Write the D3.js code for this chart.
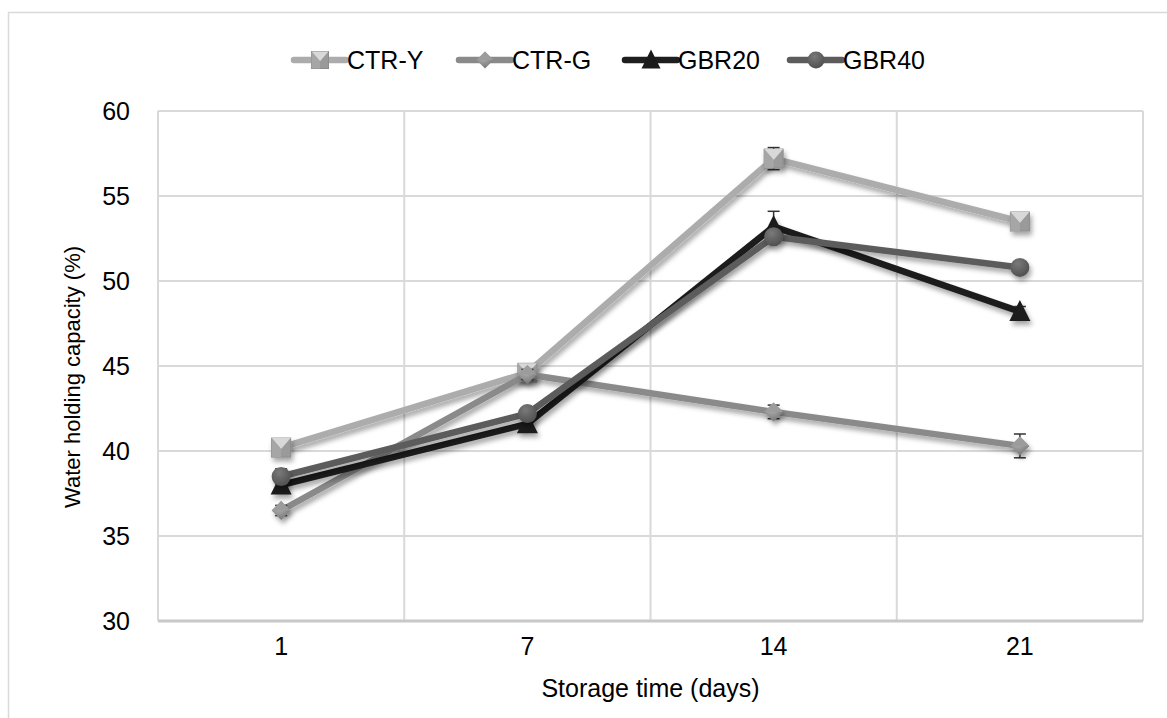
<!DOCTYPE html>
<html>
<head>
<meta charset="utf-8">
<script src="https://cdn.jsdelivr.net/npm/d3@7"></script>
<style>
  body { margin: 0; background: #fff; }
  text { font-family: "Liberation Sans", Arial, sans-serif; fill: #000; }
</style>
</head>
<body>
<div id="chart"></div>
<script>
// Data
const days = ["1", "7", "14", "21"];
const seriesNames = ["CTR-Y", "CTR-G", "GBR20", "GBR40"];
const ctrY = [40.2, 44.6, 57.2, 53.5];
const ctrG = [36.5, 44.5, 42.3, 40.3];
const gbr20 = [38.0, 41.6, 53.2, 48.2];
const gbr40 = [38.5, 42.2, 52.6, 50.8];
const ctrYErr = [0.3, 0.3, 0.65, 0.3];
const ctrGErr = [0.3, 0.3, 0.4, 0.7];
const gbr20Err = [0.3, 0.3, 0.9, 0.3];
const gbr40Err = [0.45, 0.3, 0.3, 0.3];
const yTicks = [30, 35, 40, 45, 50, 55, 60];

const width = 1167;
const height = 718;
const margin = { top: 111, right: 24, bottom: 97, left: 158 };
const fontSize = "25px";

const series = [
  { name: seriesNames[0], values: ctrY, err: ctrYErr, color: "#acacac", shape: "square" },
  { name: seriesNames[1], values: ctrG, err: ctrGErr, color: "#8a8a8a", shape: "diamond" },
  { name: seriesNames[2], values: gbr20, err: gbr20Err, color: "#1e1e1e", shape: "triangle" },
  { name: seriesNames[3], values: gbr40, err: gbr40Err, color: "#5c5c5c", shape: "circle" }
];

const svg = d3.select("#chart").append("svg")
    .attr("width", width)
    .attr("height", height);

// outer chart frame (cut at the right/bottom like the original)
svg.append("rect")
    .attr("x", 8.5).attr("y", 12.5)
    .attr("width", width).attr("height", height)
    .attr("fill", "none").attr("stroke", "#d9d9d9").attr("stroke-width", 1.5);

const defs = svg.append("defs");
const shadow = defs.append("filter").attr("id", "shadow")
    .attr("x", "-20%").attr("y", "-20%").attr("width", "140%").attr("height", "160%");
shadow.append("feDropShadow")
    .attr("dx", 2).attr("dy", 4).attr("stdDeviation", 2.5)
    .attr("flood-color", "#000").attr("flood-opacity", 0.35);

series.forEach((s, i) => {
  const c = d3.color(s.color);
  const g = defs.append("radialGradient").attr("id", "grad" + i)
      .attr("cx", "40%").attr("cy", "30%").attr("r", "75%");
  g.append("stop").attr("offset", "0%").attr("stop-color", c.brighter(0.8));
  g.append("stop").attr("offset", "100%").attr("stop-color", c.darker(0.5));
});

const x = d3.scaleBand()
    .domain(days)
    .range([margin.left, width - margin.right]);

const y = d3.scaleLinear()
    .domain([30, 60])
    .range([height - margin.bottom, margin.top]);

const xc = d => x(d) + x.bandwidth() / 2;

// gridlines
svg.append("g")
    .selectAll("line")
    .data(yTicks)
    .join("line")
    .attr("x1", margin.left).attr("x2", width - margin.right)
    .attr("y1", d => y(d)).attr("y2", d => y(d))
    .attr("stroke", "#d9d9d9").attr("stroke-width", 2);

svg.append("g")
    .selectAll("line")
    .data(d3.range(days.length + 1))
    .join("line")
    .attr("x1", i => margin.left + i * x.step())
    .attr("x2", i => margin.left + i * x.step())
    .attr("y1", margin.top).attr("y2", height - margin.bottom)
    .attr("stroke", "#d9d9d9").attr("stroke-width", 2);

svg.append("line")
    .attr("x1", margin.left).attr("x2", width - margin.right)
    .attr("y1", y(30)).attr("y2", y(30))
    .attr("stroke", "#c8c8c8").attr("stroke-width", 3);

// axes
const yAxis = svg.append("g")
    .attr("transform", `translate(${margin.left},0)`)
    .call(d3.axisLeft(y).tickValues(yTicks).tickSize(0).tickPadding(28));
yAxis.select(".domain").remove();
yAxis.selectAll("text").style("font-size", fontSize);

const xAxis = svg.append("g")
    .attr("transform", `translate(0,${height - margin.bottom})`)
    .call(d3.axisBottom(x).tickSize(0).tickPadding(16));
xAxis.select(".domain").remove();
xAxis.selectAll("text").style("font-size", fontSize);

svg.append("text")
    .attr("x", (margin.left + width - margin.right) / 2)
    .attr("y", 697)
    .attr("text-anchor", "middle")
    .style("font-size", fontSize)
    .text("Storage time (days)");

svg.append("text")
    .attr("transform", "translate(80,377) rotate(-90)")
    .attr("text-anchor", "middle")
    .style("font-size", "22px")
    .text("Water holding capacity (%)");

// marker drawing
function drawMarker(sel, s, i, size) {
  const h = size / 2;
  if (s.shape === "square") {
    sel.append("rect").attr("x", -h).attr("y", -h).attr("width", size).attr("height", size)
        .attr("fill", "#9a9a9a").attr("stroke", "#8c8c8c").attr("stroke-width", 1);
    sel.append("path").attr("d", `M${-h},${-h}L0,${h * 0.15}L${h},${-h}Z`).attr("fill", "#d8d8d8");
    sel.append("path").attr("d", `M${-h},${-h}L0,${h * 0.15}L0,${h}L${-h},${h}Z`).attr("fill", "#a6a6a6");
  } else if (s.shape === "diamond") {
    sel.append("path").attr("d", `M0,${-h}L${h},0L0,${h}L${-h},0Z`).attr("fill", `url(#grad${i})`);
    sel.append("path").attr("d", `M0,${-h}L${h},0L${-h},0Z`).attr("fill", "#9c9c9c");
  } else if (s.shape === "triangle") {
    sel.append("path").attr("d", `M0,${-h - 2}L${h + 1},${h}L${-h - 1},${h}Z`).attr("fill", "#1a1a1a");
  } else {
    sel.append("circle").attr("r", h).attr("fill", `url(#grad${i})`);
  }
}

const line = d3.line().x((d, j) => xc(days[j])).y(d => y(d));

series.forEach((s, i) => {
  const g = svg.append("g").attr("filter", "url(#shadow)");
  g.append("path")
      .datum(s.values)
      .attr("d", line)
      .attr("fill", "none")
      .attr("stroke", s.color)
      .attr("stroke-width", 6.5)
      .attr("stroke-linejoin", "round");

  // error bars
  const eb = svg.append("g").attr("stroke", "#333").attr("stroke-width", 1.5);
  s.values.forEach((v, j) => {
    const cx = xc(days[j]);
    const e = s.err[j];
    eb.append("line").attr("x1", cx).attr("x2", cx).attr("y1", y(v - e)).attr("y2", y(v + e));
    [v - e, v + e].forEach(t => {
      eb.append("line").attr("x1", cx - 6).attr("x2", cx + 6).attr("y1", y(t)).attr("y2", y(t));
    });
  });

  const m = svg.append("g").attr("filter", "url(#shadow)");
  s.values.forEach((v, j) => {
    const mg = m.append("g").attr("transform", `translate(${xc(days[j])},${y(v)})`);
    drawMarker(mg, s, i, 19);
  });
});

// legend
const legendX = [294, 459, 625, 790];
series.forEach((s, i) => {
  const lg = svg.append("g").attr("transform", `translate(${legendX[i]},60)`);
  lg.append("line")
      .attr("x1", 0).attr("x2", 52).attr("y1", 0).attr("y2", 0)
      .attr("stroke", s.color).attr("stroke-width", 6.5).attr("stroke-linecap", "round");
  const mg = lg.append("g").attr("transform", "translate(26,0)");
  drawMarker(mg, s, i, 17);
  lg.append("text")
      .attr("x", 53).attr("y", 9)
      .style("font-size", fontSize)
      .text(s.name);
});
</script>
</body>
</html>
